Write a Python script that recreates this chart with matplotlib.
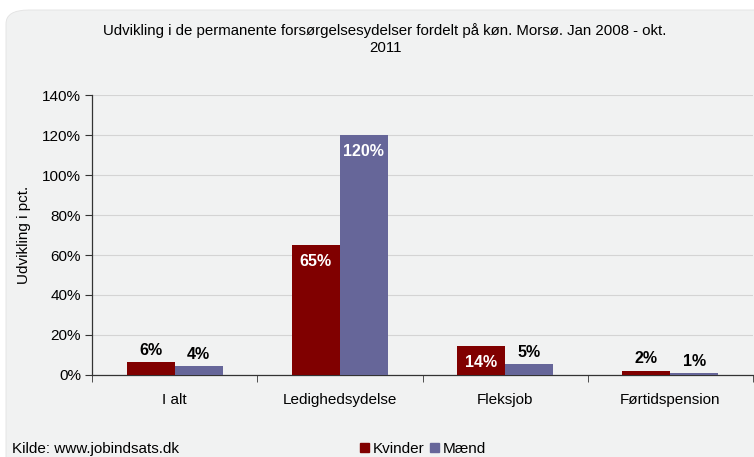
import matplotlib
matplotlib.use("Agg")
import matplotlib.pyplot as plt
import numpy as np
from matplotlib.patches import FancyBboxPatch
from matplotlib.ticker import FuncFormatter

plt.rcParams['font.family'] = ['Liberation Sans', 'DejaVu Sans']

categories = ['I alt', 'Ledighedsydelse', 'Fleksjob', 'Førtidspension']
kvinder = [6.4, 65.0, 14.4, 2.1]
maend = [4.3, 120.0, 5.3, 1.0]
kvinder_labels = ['6%', '65%', '14%', '2%']
maend_labels = ['4%', '120%', '5%', '1%']

red = '#800000'
blue = '#666699'
bg = '#f1f2f2'

fig = plt.figure(figsize=(7.54, 4.57), dpi=100)
fig.patch.set_facecolor('white')
panel = FancyBboxPatch((6 / 754, -0.1), 1.2, 1.1 - 10 / 457,
                       boxstyle='round,pad=0,rounding_size=0.03',
                       transform=fig.transFigure, facecolor=bg,
                       edgecolor='#e2e2e2', linewidth=0.6, zorder=-10)
fig.patches.append(panel)

ax = fig.add_axes([92 / 754, 1 - 375 / 457, 661 / 754, 280 / 457])
ax.set_facecolor(bg)
ax.patch.set_alpha(0)
ax.set_zorder(1)

x = np.arange(len(categories))
w = 0.29
ax.bar(x - w / 2, kvinder, w, color=red, zorder=3)
ax.bar(x + w / 2, maend, w, color=blue, zorder=3)

for i in range(len(categories)):
    for val, lab, off in [(kvinder[i], kvinder_labels[i], -w / 2),
                          (maend[i], maend_labels[i], w / 2)]:
        if val > 10:
            ax.text(x[i] + off, val - 4.5, lab, ha='center', va='top',
                    color='white', fontsize=11.5, fontweight='bold', zorder=4)
        else:
            ax.text(x[i] + off, val + 2.2, lab, ha='center', va='bottom',
                    color='black', fontsize=11.5, fontweight='bold', zorder=4)

ax.set_xlim(-0.5, len(categories) - 0.5)
ax.set_ylim(0, 140)
ax.set_yticks(np.arange(0, 141, 20))
ax.yaxis.set_major_formatter(FuncFormatter(lambda v, p: f'{int(v)}%'))
ax.set_xticks(x)
ax.set_xticklabels(categories)
ax.set_xticks(np.arange(-0.5, len(categories), 1), minor=True)
ax.tick_params(axis='x', which='major', length=0, pad=13, labelsize=11)
ax.tick_params(axis='x', which='minor', length=5, direction='out', color='#333333')
ax.tick_params(axis='y', length=5, direction='out', color='#333333', labelsize=11, pad=3)
ax.grid(axis='y', color='#d4d4d4', linewidth=0.8, zorder=0)
for s in ['top', 'right']:
    ax.spines[s].set_visible(False)
for s in ['left', 'bottom']:
    ax.spines[s].set_color('#333333')
    ax.spines[s].set_linewidth(0.9)

ax.set_ylabel('Udvikling i pct.', fontsize=11, labelpad=8)

fig.text(385 / 754, 1 - 39 / 457, 'Udvikling i de permanente forsørgelsesydelser fordelt på køn. Morsø. Jan 2008 - okt.\n2011',
         ha='center', va='center', fontsize=10.8, linespacing=1.25)
fig.text(12 / 754, 1 - 449 / 457, 'Kilde: www.jobindsats.dk', ha='left', va='center', fontsize=11)

handles = [plt.Rectangle((0, 0), 1, 1, color=red), plt.Rectangle((0, 0), 1, 1, color=blue)]
fig.legend(handles, ['Kvinder', 'Mænd'], loc='center', bbox_to_anchor=(423 / 754, 1 - 449 / 457),
           ncol=2, frameon=False, fontsize=11, handlelength=0.6, handleheight=0.6,
           handletextpad=0.2, columnspacing=0.4, borderpad=0)

fig.savefig('out.png', dpi=100, facecolor=fig.get_facecolor())
